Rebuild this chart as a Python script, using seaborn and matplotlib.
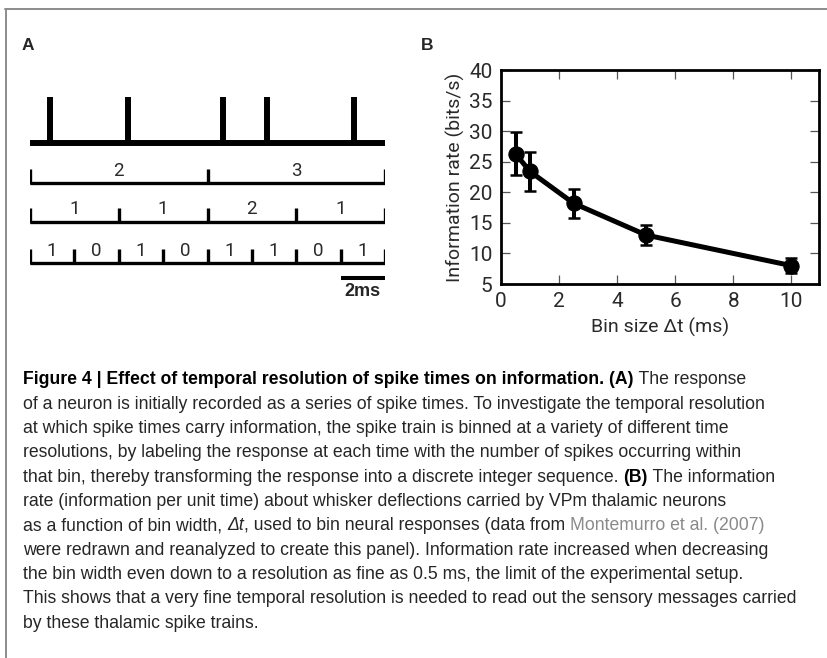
import numpy as np
import pandas as pd
import matplotlib
matplotlib.use("Agg")
import matplotlib.pyplot as plt
import seaborn as sns
from matplotlib import font_manager
from matplotlib.lines import Line2D

# panel A: spike times (ms) in a 16 ms window, binned at three widths
spike_times = [0.9, 4.4, 8.7, 10.7, 14.6]
window_ms = 16
bin_widths = [8, 4, 2]

# panel B: information rate vs bin size
bin_size = [0.5, 1, 2.5, 5, 10]
info_rate = [26.3, 23.4, 18.2, 13.0, 8.0]
info_err = [3.5, 3.2, 2.4, 1.6, 1.2]

# caption lines, split in (text, style) pieces
caption = [
    [("Figure 4 | Effect of temporal resolution of spike times on information. (A)", "b"), (" The response", "r")],
    [("of a neuron is initially recorded as a series of spike times. To investigate the temporal resolution", "r")],
    [("at which spike times carry information, the spike train is binned at a variety of different time", "r")],
    [("resolutions, by labeling the response at each time with the number of spikes occurring within", "r")],
    [("that bin, thereby transforming the response into a discrete integer sequence. ", "r"), ("(B)", "b"), (" The information", "r")],
    [("rate (information per unit time) about whisker deflections carried by VPm thalamic neurons", "r")],
    [("as a function of bin width, ", "r"), ("\u0394t", "i"), (", used to bin neural responses (data from ", "r"), ("Montemurro et al. (2007)", "g")],
    [("were redrawn and reanalyzed to create this panel). Information rate increased when decreasing", "r")],
    [("the bin width even down to a resolution as fine as 0.5 ms, the limit of the experimental setup.", "r")],
    [("This shows that a very fine temporal resolution is needed to read out the sensory messages carried", "r")],
    [("by these thalamic spike trains.", "r")],
]

W, H = 827, 658
sns.set_style("ticks")
names = {f.name for f in font_manager.fontManager.ttflist}
cap_font = "Liberation Sans"
light_font = "Roboto" if "Roboto" in names else "DejaVu Sans"
plt.rcParams["font.family"] = [light_font, "DejaVu Sans"]

fig = plt.figure(figsize=(W / 100, H / 100), dpi=100)
fig.patch.set_facecolor("white")


def px(x, y):
    return x / W, 1 - y / H


# frame lines of the page
fig.add_artist(Line2D([5 / W, 1], [1 - 8.7 / H] * 2, color="#8c8c8c", lw=1.4, transform=fig.transFigure))
fig.add_artist(Line2D([6 / W] * 2, [1 - 8.7 / H, 0], color="#8c8c8c", lw=1.4, transform=fig.transFigure))

# ---- panel A ----
axa = fig.add_axes([30 / W, 1 - 300 / H, 355 / W, 210 / H])
axa.set_xlim(0, window_ms)
axa.set_ylim(300, 90)
axa.axis("off")

axa.hlines(143, 0, window_ms, color="black", lw=4.3, capstyle="butt")
axa.vlines(spike_times, 97, 143, color="black", lw=4.3)

row_y = [183, 222, 263]
for bw, y in zip(bin_widths, row_y):
    edges = np.arange(0, window_ms + bw, bw)
    counts, _ = np.histogram(spike_times, edges)
    axa.hlines(y, 0, window_ms, color="black", lw=2.4, capstyle="butt")
    axa.vlines(edges, y - 14, y + 1.2, color="black", lw=2.4)
    for c, n in zip(edges[:-1] + bw / 2, counts):
        axa.text(c, y - 12.5, str(n), ha="center", va="center", fontsize=13.5,
                 fontweight="normal", color="#2a2a2a")

axa.hlines(278, window_ms - 2, window_ms, color="black", lw=2.9)
axa.text(window_ms - 1, 292, "2ms", ha="center", va="center", fontsize=13,
         fontweight="bold", family="Liberation Sans")

fig.text(*px(22, 46), "A", ha="left", va="center", fontsize=12.5, fontweight="bold", family="Liberation Sans")
fig.text(*px(421, 45), "B", ha="left", va="center", fontsize=12.5, fontweight="bold", family="Liberation Sans")

# ---- panel B ----
axb = fig.add_axes([501 / W, 1 - 284 / H, 318 / W, 214 / H])
df = pd.DataFrame({"bin": bin_size, "rate": info_rate, "err": info_err})
sns.lineplot(data=df, x="bin", y="rate", ax=axb, color="black", lw=3.6,
             marker="o", markersize=11, markeredgecolor="black")
axb.errorbar(df["bin"], df["rate"], yerr=df["err"], fmt="none", ecolor="black",
             elinewidth=2.9, capsize=4.3, capthick=1.8)
axb.set_xlim(0, 10.95)
axb.set_ylim(5, 40)
axb.set_xticks([0, 2, 4, 6, 8, 10])
axb.set_yticks(range(5, 41, 5))
for s in axb.spines.values():
    s.set_visible(True)
    s.set_linewidth(2)
    s.set_color("black")
axb.tick_params(direction="in", length=6.5, width=0.9, color="#555555",
                labelsize=15, labelcolor="#2a2a2a", top=True, right=True, pad=6)
axb.set_xlabel("Bin size \u0394t (ms)", fontsize=14, color="#2a2a2a", labelpad=5)
axb.set_ylabel("Information rate (bits/s)", fontsize=14, color="#2a2a2a", labelpad=3)

# ---- caption ----
renderer = fig.canvas.get_renderer()
styles = {
    "r": dict(family=cap_font, color="#262626"),
    "b": dict(family=cap_font, color="black", fontweight="bold"),
    "i": dict(family=cap_font, color="#262626", style="italic"),
    "g": dict(family=cap_font, color="#8a8a8a"),
}


def text_w(s, size, st):
    # width of a piece, keeping leading and trailing blanks
    a = fig.text(0, 0, "|" + s + "|", fontsize=size, **styles[st])
    b = fig.text(0, 0, "||", fontsize=size, **styles[st])
    w = a.get_window_extent(renderer).width - b.get_window_extent(renderer).width
    a.remove()
    b.remove()
    return w


size = 12 * 747 / text_w(caption[1][0][0], 12, "r")
for i, line in enumerate(caption):
    x = 23
    y = 384.5 + 24.3 * i
    for s, st in line:
        fig.text(*px(x, y), s, fontsize=size, va="baseline", ha="left", **styles[st])
        x += text_w(s, size, st)

fig.savefig("out.png", dpi=100)
